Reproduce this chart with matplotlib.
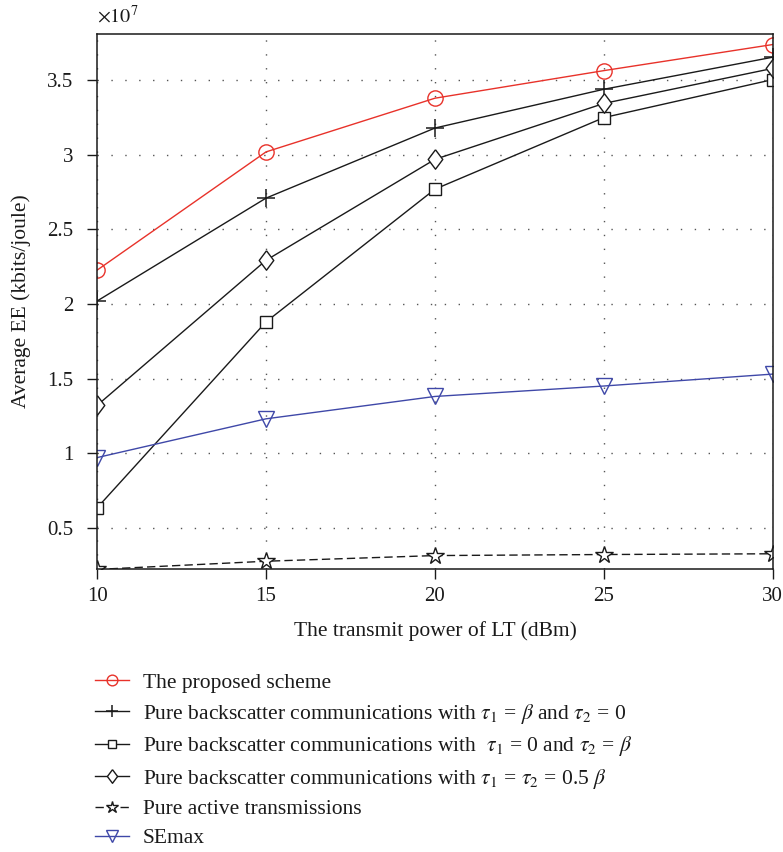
import matplotlib
matplotlib.use("Agg")
import matplotlib.pyplot as plt
from matplotlib.ticker import FuncFormatter

plt.rcParams['font.family'] = ['Liberation Serif', 'DejaVu Serif']
plt.rcParams['mathtext.fontset'] = 'stix'

power_dbm = [10, 15, 20, 25, 30]
# Average EE in units of 1e7 kbits/joule
proposed = [2.227, 3.02, 3.38, 3.565, 3.74]
tau1_beta = [2.02, 2.71, 3.18, 3.44, 3.655]
tau2_beta = [0.633, 1.88, 2.77, 3.25, 3.505]
tau_half = [1.32, 2.293, 2.97, 3.345, 3.58]
active = [0.22, 0.275, 0.313, 0.32, 0.325]
semax = [0.97, 1.23, 1.38, 1.45, 1.53]

labels = [
    "The proposed scheme",
    r"Pure backscatter communications with $\tau_1$ = $\beta$ and $\tau_2$ = 0",
    r"Pure backscatter communications with  $\tau_1$ = 0 and $\tau_2$ = $\beta$",
    r"Pure backscatter communications with $\tau_1$ = $\tau_2$ = 0.5 $\beta$",
    "Pure active transmissions",
    "SEmax",
]
x_ticks = [10, 15, 20, 25, 30]
y_ticks = [0.5, 1, 1.5, 2, 2.5, 3, 3.5]

fig = plt.figure(figsize=(7.83, 8.52), dpi=100)
ax = fig.add_axes([0.124, 0.332, 0.863, 0.628])

diamond = [(0, 1), (0.75, 0), (0, -1), (-0.75, 0), (0, 1)]
lw = 1.0
h = []
h += ax.plot(power_dbm, proposed, color='#e8322a', lw=lw, marker='o', ms=11,
             mfc='none', mec='#e8322a', mew=1.0)
h += ax.plot(power_dbm, tau1_beta, color='#1a1a1a', lw=lw, marker='+', ms=13,
             mew=1.1)
h += ax.plot(power_dbm, tau2_beta, color='#1a1a1a', lw=lw, marker='s', ms=8.5,
             mfc='white', mec='#1a1a1a', mew=1.0)
h += ax.plot(power_dbm, tau_half, color='#1a1a1a', lw=lw, marker=diamond, ms=14,
             mfc='white', mec='#1a1a1a', mew=1.0)
h += ax.plot(power_dbm, active, color='#1a1a1a', lw=lw, ls=(0, (6, 3)), marker='*',
             ms=13, mfc='white', mec='#1a1a1a', mew=1.0)
h += ax.plot(power_dbm, semax, color='#3f48a8', lw=lw, marker='v', ms=12,
             mfc='none', mec='#3f48a8', mew=1.0)

ax.set_xlim(10, 30)
ax.set_ylim(0.222, 3.81)
ax.set_xticks(x_ticks)
ax.set_yticks(y_ticks)
ax.yaxis.set_major_formatter(FuncFormatter(lambda v, p: ('%g' % v)))
ax.grid(True, color='#555555', ls=(0, (1, 9)), lw=1.0)
ax.tick_params(direction='out', length=7, width=1.0, labelsize=15, color='#1a1a1a',
               labelcolor='#1a1a1a')
ax.tick_params(axis='y', pad=10)
ax.tick_params(axis='x', pad=6)
for s in ax.spines.values():
    s.set_linewidth(1.1)
    s.set_color('#1a1a1a')

ax.set_xlabel("The transmit power of LT (dBm)", fontsize=15.5, color='#1a1a1a', labelpad=11)
ax.set_ylabel("Average EE (kbits/joule)", fontsize=15.5, color='#1a1a1a', labelpad=12)
ax.text(0.0, 1.012, r"$\times10^7$", transform=ax.transAxes, fontsize=14.5,
        ha='left', va='bottom', color='#1a1a1a')

leg = fig.legend(h, labels, loc='upper left', bbox_to_anchor=(0.096, 0.233),
                 frameon=False, fontsize=15.5, handlelength=1.58, handletextpad=0.65,
                 labelspacing=0.4, markerscale=0.7)
for t in leg.get_texts():
    t.set_color('#1a1a1a')

fig.savefig("out.png", dpi=100)
